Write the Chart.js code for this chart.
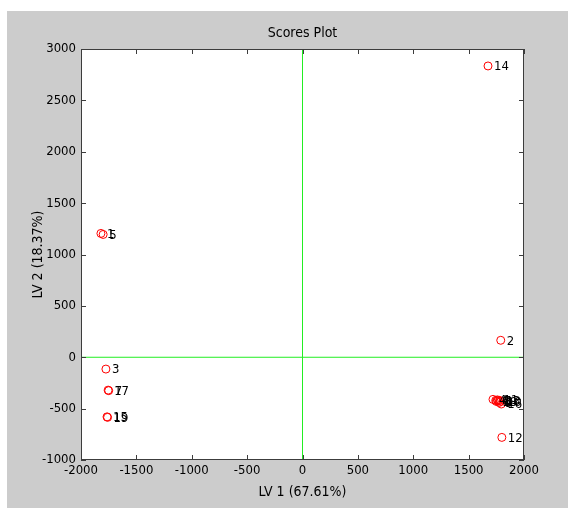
<!DOCTYPE html>
<html><head><meta charset="utf-8">
<script src="https://cdn.jsdelivr.net/npm/chart.js@4/dist/chart.umd.min.js"></script>
<style>html,body{margin:0;padding:0;background:#fff;overflow:hidden}</style>
</head><body>
<canvas id="c" width="568" height="509" style="display:block;width:568px;height:509px"></canvas>
<script>
const sampleIds = ['1','2','3','4','5','6','7','8','9','10','11','12','13','14','15','16','17','18','19'];
const lv1Scores = [-1820, 1790, -1775, 1720, -1800, 1745, -1750, 1765, 1775, 1790, 1760, 1800, 1780, 1675, -1765, 1795, -1755, 1750, -1760];
const lv2Scores = [1205, 165, -115, -410, 1195, -420, -325, -425, -440, -430, -415, -780, -420, 2835, -580, -455, -320, -430, -585];
const xTickValues = [-2000, -1500, -1000, -500, 0, 500, 1000, 1500, 2000];
const yTickValues = [-1000, -500, 0, 500, 1000, 1500, 2000, 2500, 3000];
const chartTitle = 'Scores Plot';
const xTitle = 'LV 1 (67.61%)';
const yTitle = 'LV 2 (18.37%)';

const FONT = "'DejaVu Sans Condensed','Liberation Sans',sans-serif";

const points = sampleIds.map((id, i) => ({x: lv1Scores[i], y: lv2Scores[i]}));

const bgPlugin = {
  id: 'bg',
  beforeDraw(chart) {
    const ctx = chart.ctx, a = chart.chartArea;
    ctx.save();
    ctx.fillStyle = '#ffffff';
    ctx.fillRect(0, 0, chart.width, chart.height);
    ctx.fillStyle = '#cccccc';
    ctx.fillRect(7, 11, chart.width - 7, 497);
    ctx.fillStyle = '#ffffff';
    ctx.fillRect(a.left, a.top, a.right - a.left, a.bottom - a.top);
    ctx.restore();
  }
};

const frameAndLabels = {
  id: 'frameAndLabels',
  afterDatasetsDraw(chart) {
    const ctx = chart.ctx, a = chart.chartArea;
    const xs = chart.scales.x, ys = chart.scales.y;
    ctx.save();
    ctx.fillStyle = '#000';
    ctx.font = '13px ' + FONT;
    ctx.textAlign = 'left';
    ctx.textBaseline = 'middle';
    const meta = chart.getDatasetMeta(2);
    meta.data.forEach((el, i) => {
      ctx.fillText(sampleIds[i], el.x + 6, el.y + 1);
    });
    ctx.strokeStyle = '#3c3c3c';
    ctx.lineWidth = 1;
    ctx.strokeRect(a.left + 0.5, a.top + 0.5, a.right - a.left - 1, a.bottom - a.top - 1);
    const L = 5;
    ctx.beginPath();
    xTickValues.forEach(v => {
      const px = Math.round(xs.getPixelForValue(v)) + 0.5;
      ctx.moveTo(px, a.bottom); ctx.lineTo(px, a.bottom - L);
      ctx.moveTo(px, a.top); ctx.lineTo(px, a.top + L);
    });
    yTickValues.forEach(v => {
      const py = Math.round(ys.getPixelForValue(v)) + 0.5;
      ctx.moveTo(a.left, py); ctx.lineTo(a.left + L, py);
      ctx.moveTo(a.right, py); ctx.lineTo(a.right - L, py);
    });
    ctx.stroke();
    ctx.restore();
  }
};

new Chart(document.getElementById('c'), {
  data: {
    datasets: [
      {type: 'line', data: [{x: 0, y: -1000}, {x: 0, y: 3000}], borderColor: '#22ee22', borderWidth: 1, pointRadius: 0, fill: false},
      {type: 'line', data: [{x: -2000, y: 0}, {x: 2000, y: 0}], borderColor: '#22ee22', borderWidth: 1, pointRadius: 0, fill: false},
      {type: 'scatter', data: points, pointStyle: 'circle', pointRadius: 4, borderColor: '#ff0000', backgroundColor: 'rgba(0,0,0,0)', borderWidth: 1}
    ]
  },
  options: {
    responsive: false,
    devicePixelRatio: 1,
    animation: false,
    layout: {padding: {left: 0, right: 44, top: 0, bottom: 0}},
    plugins: {
      legend: {display: false},
      tooltip: {enabled: false},
      title: {display: true, text: chartTitle, fullSize: false, color: '#000',
        font: {family: FONT, size: 14, weight: 'normal'}, padding: {top: 24.6, bottom: 7.6}}
    },
    scales: {
      x: {
        type: 'linear', min: -2000, max: 2000,
        afterBuildTicks: s => { s.ticks = xTickValues.map(v => ({value: v})); },
        afterFit: s => { s.height = 49; },
        grid: {display: false, drawTicks: false},
        border: {display: false},
        ticks: {color: '#000', padding: 3, maxRotation: 0, autoSkip: false, font: {family: FONT, size: 13},
          callback: v => String(v)},
        title: {display: true, text: xTitle, color: '#000', font: {family: FONT, size: 14}, padding: {top: 0, bottom: 8.6}}
      },
      y: {
        type: 'linear', min: -1000, max: 3000,
        afterBuildTicks: s => { s.ticks = yTickValues.map(v => ({value: v})); },
        afterFit: s => { s.width = 81; },
        grid: {display: false, drawTicks: false},
        border: {display: false},
        ticks: {color: '#000', padding: 5, autoSkip: false, font: {family: FONT, size: 13},
          callback: v => String(v)},
        title: {display: true, text: yTitle, color: '#000', font: {family: FONT, size: 14}, padding: {top: 29.6, bottom: 0}}
      }
    }
  },
  plugins: [bgPlugin, frameAndLabels]
});
</script>
</body></html>
